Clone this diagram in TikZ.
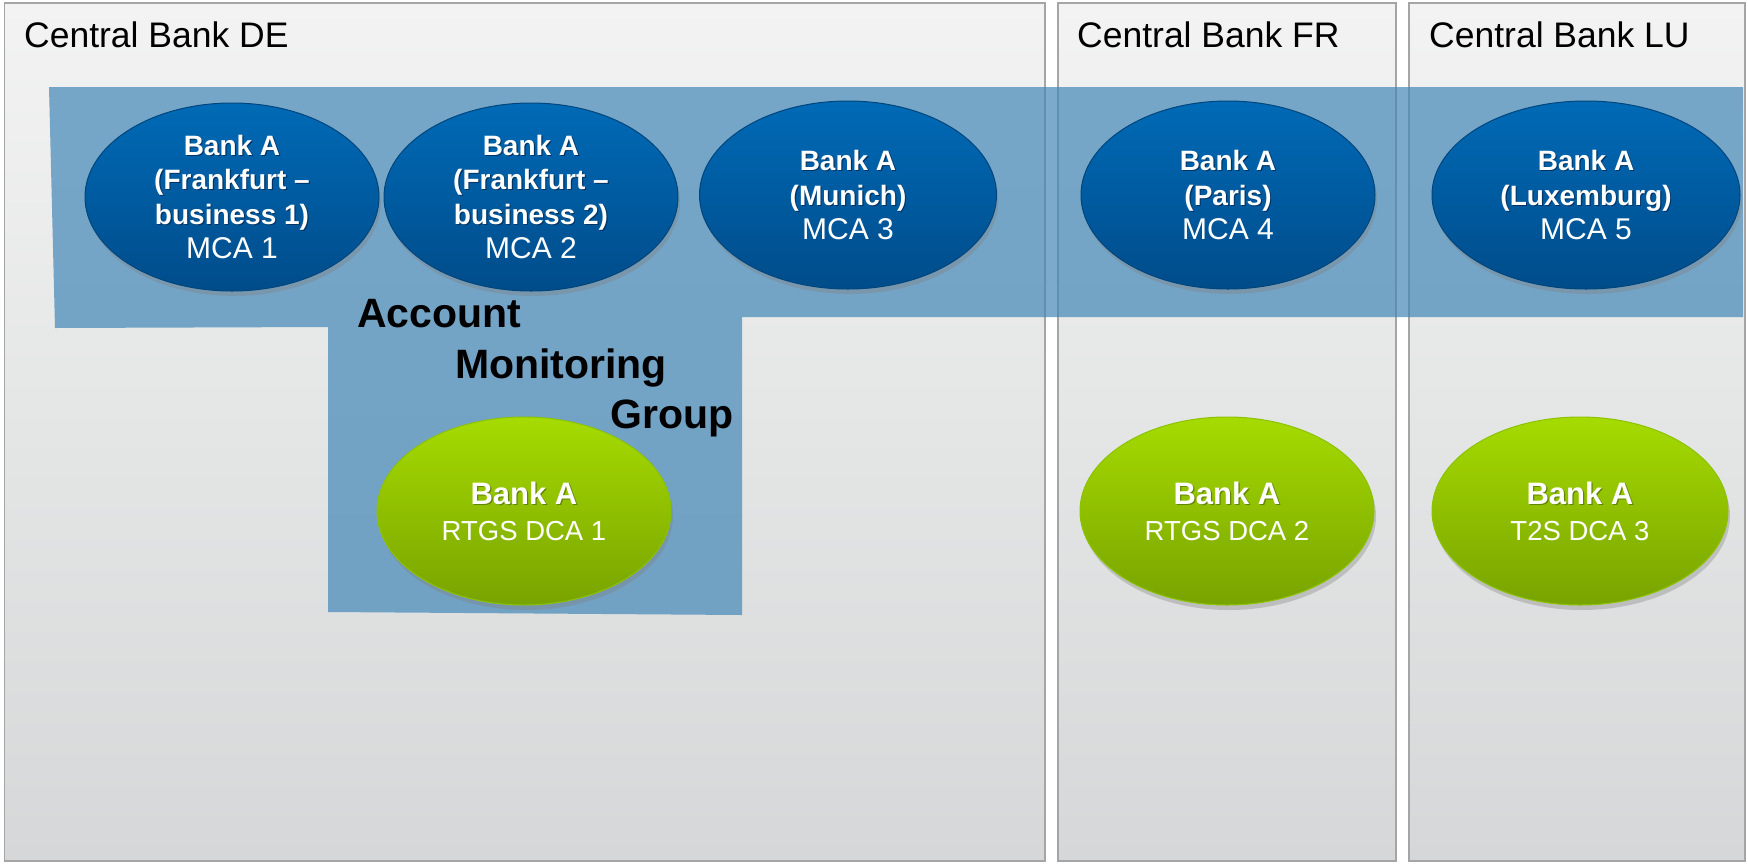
\documentclass[tikz,border=0pt]{standalone}
\usepackage{fontspec}
\setmainfont{Liberation Sans}
\usetikzlibrary{shapes.geometric,shadows}

\definecolor{boxtop}{RGB}{242,243,242}
\definecolor{boxbot}{RGB}{214,215,216}
\definecolor{boxline}{RGB}{165,165,165}
\definecolor{groupblue}{RGB}{67,135,183}
\definecolor{mcatop}{RGB}{0,106,182}
\definecolor{mcabot}{RGB}{0,76,138}
\definecolor{mcaline}{RGB}{0,70,125}
\definecolor{mcashade}{RGB}{0,52,100}
\definecolor{dcatop}{RGB}{166,219,0}
\definecolor{dcabot}{RGB}{120,163,0}
\definecolor{dcaline}{RGB}{140,195,0}
\definecolor{dcashade}{RGB}{100,132,0}
\colorlet{acshade}{black}

% bold (with a soft offset shadow) and regular lines inside the account ellipses
\newcommand\acname[1]{\textbf{\rlap{\hspace{1.2pt}\raisebox{-1.2pt}{\textcolor{acshade}{#1}}}#1}}
\newcommand\acmca[1]{{\fontsize{30}{34}\selectfont #1}}
\newcommand\acdca[1]{{\fontsize{27.5}{34}\selectfont #1}}

\tikzset{
  cbbox/.style={draw=boxline, line width=1.5pt, top color=boxtop, bottom color=boxbot},
  cbtitle/.style={anchor=base west, inner sep=0pt, font=\fontsize{35.5}{40}\selectfont},
  acct/.style={ellipse, minimum height=188pt, inner sep=0pt, align=center,
    text=white, line width=1pt,
    drop shadow={shadow xshift=2pt, shadow yshift=-5pt, opacity=0.35}},
  mca/.style={acct, minimum width=294pt, draw=mcaline, top color=mcatop, bottom color=mcabot,
    font=\fontsize{28}{34.5}\selectfont,
    execute at begin node={\colorlet{acshade}{mcashade}}},
  dca/.style={acct, minimum width=294pt, draw=dcaline, top color=dcatop, bottom color=dcabot,
    font=\fontsize{31}{36}\selectfont,
    execute at begin node={\colorlet{acshade}{dcashade}}},
  grouplabel/.style={anchor=base west, inner sep=0pt, font=\bfseries\fontsize{41}{50}\selectfont},
}

\begin{document}
\begin{tikzpicture}[x=1pt,y=-1pt]
  \useasboundingbox (0,0) rectangle (1748,863);
  \fill[white] (0,0) rectangle (1748,863);

  % central bank panels
  \draw[cbbox] (4.5,3) rectangle (1045,861);
  \draw[cbbox] (1058,3) rectangle (1396,861);
  \draw[cbbox] (1409,3) rectangle (1745,861);

  \node[cbtitle] (tde) at (24,47) {Central Bank DE};
  \node[cbtitle] (tfr) at (1077,47) {Central Bank FR};
  \node[cbtitle] (tlu) at (1429,47) {Central Bank LU};

  % account monitoring group area
  \fill[groupblue, opacity=0.7]
    (49,87) -- (1743,87) -- (1743,317) -- (742,317) -- (742,615)
    -- (328,612) -- (328,327) -- (55,328) -- cycle;

  % main cash accounts
  \node[mca] (mca1) at (232,197) {\acname{Bank A}\\\acname{(Frankfurt –}\\\acname{business 1)}\\\acmca{MCA 1}};
  \node[mca] (mca2) at (531,197) {\acname{Bank A}\\\acname{(Frankfurt –}\\\acname{business 2)}\\\acmca{MCA 2}};
  \node[mca, minimum width=297pt] (mca3) at (848,195) {\acname{Bank A}\\\acname{(Munich)}\\\acmca{MCA 3}};
  \node[mca] (mca4) at (1228,195) {\acname{Bank A}\\\acname{(Paris)}\\\acmca{MCA 4}};
  \node[mca, minimum width=308pt] (mca5) at (1586,195) {\acname{Bank A}\\\acname{(Luxemburg)}\\\acmca{MCA 5}};

  % dedicated cash accounts
  \node[dca] (dca1) at (524,511) {\acname{Bank A}\\\acdca{RTGS DCA 1}};
  \node[dca] (dca2) at (1227,511) {\acname{Bank A}\\\acdca{RTGS DCA 2}};
  \node[dca, minimum width=296pt] (dca3) at (1580,511) {\acname{Bank A}\\\acdca{T2S DCA 3}};

  % group label
  \node[grouplabel] (grp1) at (357,327) {Account};
  \node[grouplabel] (grp2) at (455,378) {Monitoring};
  \node[grouplabel] (grp3) at (610,428) {Group};
\end{tikzpicture}
\end{document}
